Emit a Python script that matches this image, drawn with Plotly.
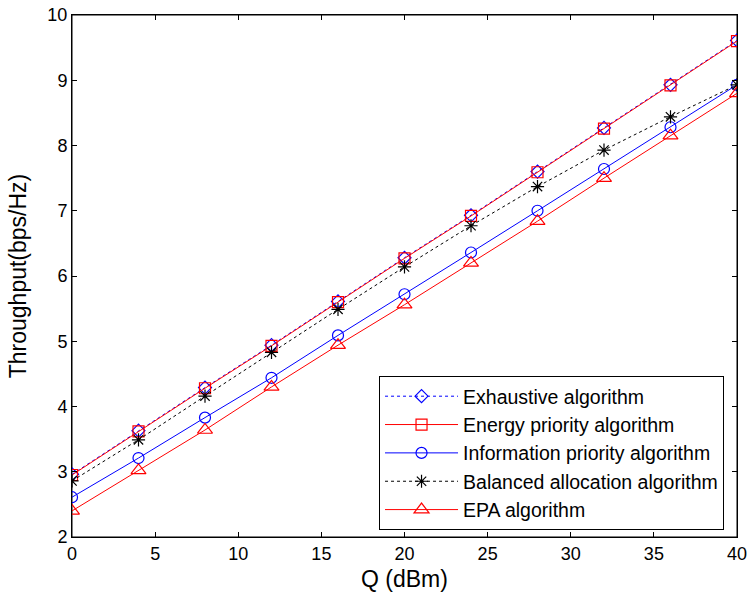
import plotly.graph_objects as go

q_dbm = [0, 4, 8, 12, 16, 20, 24, 28, 32, 36, 40]

exhaustive = [2.96, 3.63, 4.29, 4.94, 5.61, 6.28, 6.93, 7.60, 8.27, 8.93, 9.61]
energy_priority = [2.95, 3.62, 4.28, 4.93, 5.60, 6.27, 6.92, 7.59, 8.26, 8.92, 9.60]
info_priority = [2.61, 3.21, 3.83, 4.44, 5.09, 5.72, 6.36, 7.00, 7.64, 8.28, 8.93]
balanced = [2.86, 3.49, 4.16, 4.83, 5.49, 6.14, 6.77, 7.37, 7.93, 8.44, 8.93]
epa = [2.40, 3.02, 3.64, 4.30, 4.94, 5.56, 6.20, 6.84, 7.50, 8.15, 8.80]

series = [
    ("Exhaustive algorithm", exhaustive, "blue", "dot", "diamond-open", 10),
    ("Energy priority algorithm", energy_priority, "red", "solid", "square-open", 11),
    ("Information priority algorithm", info_priority, "blue", "solid", "circle-open", 11),
    ("Balanced allocation algorithm", balanced, "black", "dot", "asterisk-open", 11),
    ("EPA algorithm", epa, "red", "solid", "triangle-up-open", 13),
]

fig = go.Figure()
for name, vals, color, dash, symbol, size in series:
    fig.add_trace(go.Scatter(
        x=q_dbm, y=vals, name=name, mode="lines+markers",
        line=dict(color=color, width=1, dash=dash),
        marker=dict(symbol=symbol, size=size, color=color, line=dict(color=color, width=1.2)),
    ))

axis_common = dict(
    showline=True, linecolor="black", linewidth=1, mirror="ticks",
    ticks="inside", ticklen=5, tickcolor="black", showgrid=False, zeroline=False,
    automargin=False, ticklabeloverflow="allow",
    tickfont=dict(family="Liberation Sans, Arial", size=18, color="black"),
)

fig.update_layout(
    width=751, height=598,
    margin=dict(l=72, r=14, t=15, b=61),
    paper_bgcolor="white", plot_bgcolor="white",
    font=dict(family="Liberation Sans, Arial", size=19, color="black"),
    xaxis=dict(range=[0, 40], dtick=5, title=dict(text="Q (dBm)", standoff=8), **axis_common),
    yaxis=dict(range=[2, 10], dtick=1, title=dict(text="Throughput(bps/Hz)", standoff=14), **axis_common),
    legend=dict(
        x=0.4617, y=0.3084, xanchor="left", yanchor="top",
        bgcolor="white", bordercolor="black", borderwidth=1,
        font=dict(size=19.5), itemwidth=73, tracegroupgap=0,
    ),
    showlegend=True,
)

# MATLAB-style box round the axes
fig.add_shape(type="rect", xref="paper", yref="paper", x0=0, y0=0, x1=1, y1=1,
              line=dict(color="black", width=1), layer="below")

# drop the default 8px page margin so the figure sits at the window's corner
fig.write_html("out.html", config={"displayModeBar": False},
               post_script="document.body.style.margin='0px';")
